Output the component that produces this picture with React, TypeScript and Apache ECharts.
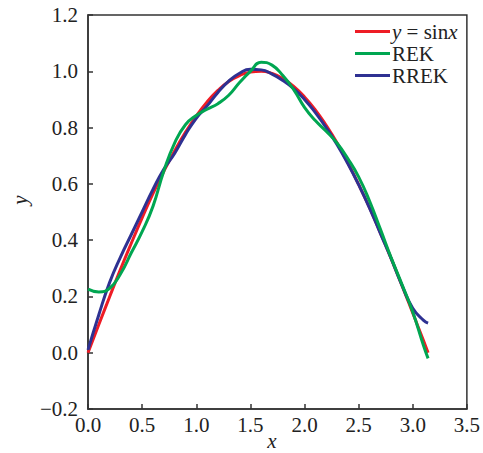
import React, { useEffect, useRef } from "react";
import * as echarts from "echarts";

const xValues = [0, 0.1, 0.2, 0.3, 0.4, 0.5, 0.6, 0.7, 0.8, 0.9, 1.0, 1.1, 1.2, 1.3, 1.4, 1.5, 1.6, 1.7, 1.8, 1.9, 2.0, 2.1, 2.2, 2.3, 2.4, 2.5, 2.6, 2.7, 2.8, 2.9, 3.0, 3.1, 3.1416];
const sinValues = [0, 0.1, 0.199, 0.296, 0.389, 0.479, 0.565, 0.644, 0.717, 0.783, 0.841, 0.891, 0.932, 0.964, 0.985, 0.997, 1.0, 0.992, 0.974, 0.946, 0.909, 0.863, 0.808, 0.746, 0.675, 0.598, 0.516, 0.427, 0.335, 0.239, 0.141, 0.042, 0.0];
const rekValues = [0.226, 0.216, 0.229, 0.28, 0.355, 0.43, 0.52, 0.645, 0.745, 0.81, 0.843, 0.865, 0.885, 0.915, 0.96, 1.0, 1.032, 1.022, 0.985, 0.935, 0.872, 0.825, 0.787, 0.745, 0.69, 0.625, 0.54, 0.44, 0.338, 0.243, 0.145, 0.025, -0.02];
const rrekValues = [0.01, 0.135, 0.25, 0.34, 0.42, 0.5, 0.58, 0.652, 0.708, 0.775, 0.833, 0.877, 0.925, 0.965, 0.993, 1.007, 1.005, 0.99, 0.967, 0.938, 0.9, 0.853, 0.8, 0.74, 0.672, 0.597, 0.515, 0.425, 0.335, 0.24, 0.158, 0.115, 0.105];
const xTicks = { min: 0, max: 3.5, interval: 0.5 };
const yTicks = { min: -0.2, max: 1.2, interval: 0.2 };
const seriesNames = ["y = sinx", "REK", "RREK"];

const FONT = "'Liberation Serif', 'Times New Roman', Times, serif";

function pairs(ys: number[]) {
  return xValues.map((x, i) => [x, ys[i]]);
}

export default function App() {
  const ref = useRef<HTMLDivElement>(null);
  useEffect(() => {
    if (!ref.current) return;
    const chart = echarts.init(ref.current, null, { renderer: "svg" });
    const fmt = (v: number) => v.toFixed(1).replace("-", "\u2212");
    chart.setOption({
      animation: false,
      backgroundColor: "#fff",
      grid: {
        left: 88,
        top: 15,
        right: 16,
        bottom: 44,
        show: true,
        borderColor: "#333",
        borderWidth: 1.5,
      },
      legend: {
        data: [seriesNames[0], seriesNames[1], seriesNames[2]],
        orient: "vertical",
        left: 355,
        top: 21,
        itemWidth: 35,
        itemHeight: 3,
        itemGap: 1,
        icon: "rect",
        padding: 0,
        formatter: (name: string) =>
          name === seriesNames[0] ? "{i|y} = sin{i|x}" : name,
        textStyle: {
          fontFamily: FONT,
          fontSize: 21,
          color: "#222",
          padding: [0, 0, 0, -3],
          lineHeight: 21,
          rich: {
            i: { fontFamily: FONT, fontSize: 21, fontStyle: "italic", color: "#222" },
          },
        },
      },
      xAxis: {
        type: "value",
        min: xTicks.min,
        max: xTicks.max,
        interval: xTicks.interval,
        axisLine: { show: true, onZero: false, lineStyle: { color: "#333", width: 1.5 } },
        axisTick: { show: true, inside: true, length: 5, lineStyle: { color: "#333", width: 1.5 } },
        splitLine: { show: false },
        axisLabel: {
          formatter: fmt,
          fontFamily: FONT,
          fontSize: 21,
          color: "#222",
          margin: 5,
        },
      },
      yAxis: {
        type: "value",
        min: yTicks.min,
        max: yTicks.max,
        interval: yTicks.interval,
        axisLine: { show: true, onZero: false, lineStyle: { color: "#333", width: 1.5 } },
        axisTick: { show: true, inside: true, length: 5, lineStyle: { color: "#333", width: 1.5 } },
        splitLine: { show: false },
        axisLabel: {
          formatter: fmt,
          fontFamily: FONT,
          fontSize: 21,
          color: "#222",
          margin: 10,
        },
      },
      graphic: [
        {
          type: "text",
          x: 272,
          y: 441,
          style: {
            text: "x",
            fontFamily: FONT,
            fontSize: 21,
            fontStyle: "italic",
            fill: "#222",
            textAlign: "center",
            textVerticalAlign: "middle",
          },
        },
        {
          type: "text",
          x: 20,
          y: 200,
          rotation: Math.PI / 2,
          style: {
            text: "y",
            fontFamily: FONT,
            fontSize: 21,
            fontStyle: "italic",
            fill: "#222",
            textAlign: "center",
            textVerticalAlign: "middle",
          },
        },
      ],
      series: [
        {
          name: seriesNames[0],
          type: "line",
          data: pairs(sinValues),
          smooth: true,
          showSymbol: false,
          lineStyle: { color: "#ee1c25", width: 3 },
          itemStyle: { color: "#ee1c25" },
        },
        {
          name: seriesNames[2],
          type: "line",
          data: pairs(rrekValues),
          smooth: true,
          showSymbol: false,
          lineStyle: { color: "#2e3192", width: 3 },
          itemStyle: { color: "#2e3192" },
        },
        {
          name: seriesNames[1],
          type: "line",
          data: pairs(rekValues),
          smooth: true,
          showSymbol: false,
          lineStyle: { color: "#00a651", width: 3 },
          itemStyle: { color: "#00a651" },
        },
      ],
    });
    return () => chart.dispose();
  }, []);
  return (
    <div
      ref={ref}
      style={{ position: "absolute", left: 0, top: 0, width: 483, height: 453 }}
    />
  );
}
